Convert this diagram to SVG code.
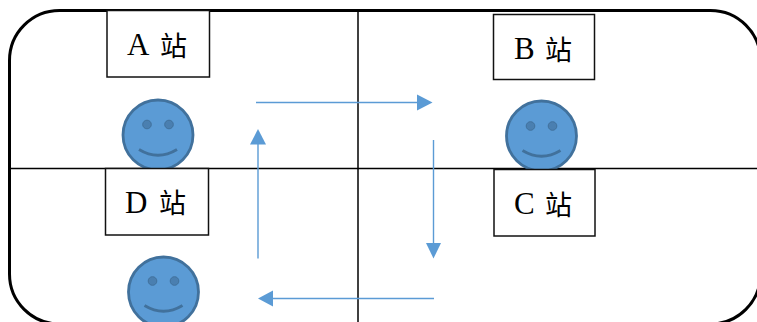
<svg xmlns="http://www.w3.org/2000/svg" width="757" height="322" viewBox="0 0 757 322">
<style>
.box{fill:#fff;stroke:#111;stroke-width:1.5}
.lbl{font-family:"Liberation Serif","Noto Sans CJK SC",serif;font-size:31px;fill:#000}
.cjk{font-family:"Noto Sans CJK SC",sans-serif;font-size:27px}
.face{fill:#5b9bd5;stroke:#41719c;stroke-width:2.8}
.eye{fill:#4a7fb0;stroke:#41719c;stroke-width:1}
.smile{fill:none;stroke:#41719c;stroke-width:2.8}
.arr{fill:none;stroke:#5b9bd5;stroke-width:1.4}
.head{fill:#5b9bd5}
.grid{stroke:#000;stroke-width:1.5}
</style>
<rect width="757" height="322" fill="#fff"/>
<rect x="9.500" y="10.500" width="751" height="313.500" rx="50" ry="50" fill="none" stroke="#000" stroke-width="3"/>
<g id="connectors">
<line class="grid" x1="10" y1="168.500" x2="757" y2="168.500"/>
<line class="grid" x1="358" y1="11" x2="358" y2="322"/>
<line class="arr" x1="256" y1="102.500" x2="418" y2="102.500"/>
<polygon class="head" points="417,94.500 432.500,102.500 417,110.500"/>
<line class="arr" x1="433.500" y1="140" x2="433.500" y2="244"/>
<polygon class="head" points="426,243 433.500,258.500 441,243"/>
<line class="arr" x1="434" y1="298.500" x2="272" y2="298.500"/>
<polygon class="head" points="273,290.500 258,298.500 273,306.500"/>
<line class="arr" x1="258" y1="258.500" x2="258" y2="144"/>
<polygon class="head" points="250,144.500 258,129 266,144.500"/>
</g>
<g id="face-a">
<circle class="face" cx="158" cy="135" r="35"/>
<circle class="eye" cx="147" cy="124.500" r="4.300"/><circle class="eye" cx="169" cy="124.500" r="4.300"/>
<path class="smile" d="M139 149.500Q158 161 177 149.500"/>
</g>
<g id="face-b">
<circle class="face" cx="541.500" cy="136" r="35"/>
<circle class="eye" cx="530.500" cy="126" r="4.300"/><circle class="eye" cx="552.500" cy="126" r="4.300"/>
<path class="smile" d="M522.500 150.500Q541.500 162 560.500 150.500"/>
</g>
<g id="face-d">
<circle class="face" cx="163.500" cy="292" r="35"/>
<circle class="eye" cx="152.500" cy="281" r="4.300"/><circle class="eye" cx="174.500" cy="281" r="4.300"/>
<path class="smile" d="M144.500 305.500Q163.500 317 182.500 305.500"/>
</g>
<g id="station-a">
<rect class="box" x="107" y="10.500" width="102.500" height="66.500"/>
<text class="lbl" x="127" y="55">A</text><text class="lbl cjk" x="160" y="56">站</text>
</g>
<g id="station-b">
<rect class="box" x="493.500" y="14.500" width="101" height="65"/>
<text class="lbl" x="514" y="59">B</text><text class="lbl cjk" x="545" y="60">站</text>
</g>
<g id="station-c">
<rect class="box" x="494" y="169.500" width="101" height="66.500"/>
<text class="lbl" x="514" y="214">C</text><text class="lbl cjk" x="545" y="215">站</text>
</g>
<g id="station-d">
<rect class="box" x="105.500" y="168.500" width="103" height="66.500"/>
<text class="lbl" x="125" y="213">D</text><text class="lbl cjk" x="159" y="213">站</text>
</g>
</svg>
